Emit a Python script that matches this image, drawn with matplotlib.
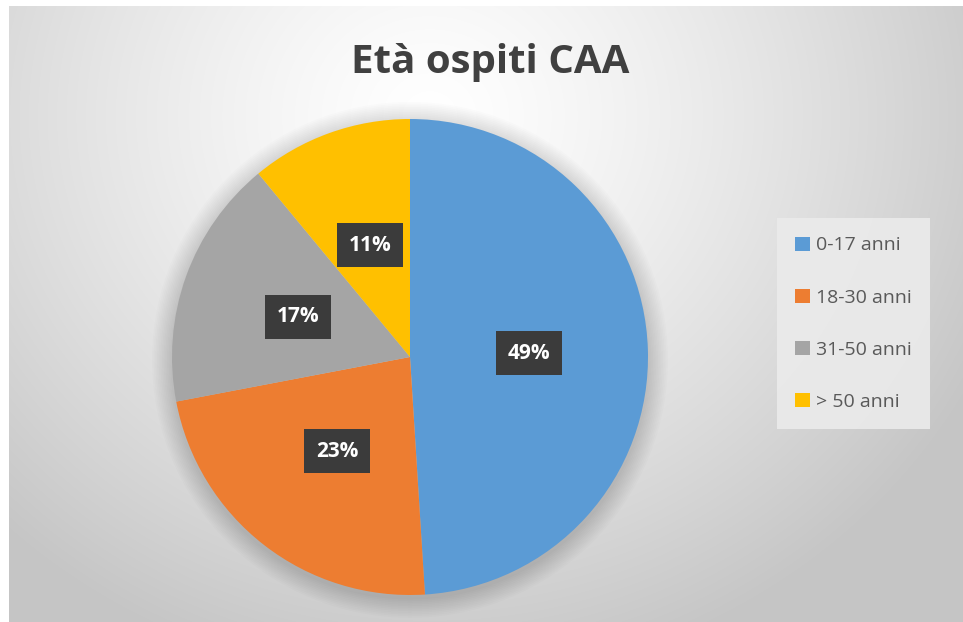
import numpy as np
import matplotlib.pyplot as plt
from matplotlib.patches import Circle

# dati
categorie = ["0-17 anni", "18-30 anni", "31-50 anni", "> 50 anni"]
valori = [49, 23, 17, 11]
colori = ["#5B9BD5", "#ED7D31", "#A5A5A5", "#FFC000"]
titolo = "Età ospiti CAA"

W, H = 963, 622
fig = plt.figure(figsize=(W / 100, H / 100), dpi=100, facecolor="white")

# sfondo con sfumatura radiale
bg = fig.add_axes([9 / W, 0, 1 - 9 / W, 1 - 6 / H])
yy, xx = np.mgrid[0:616, 0:954]
r = np.sqrt(((xx - 420) / 560.0) ** 2 + ((yy - 110) / 520.0) ** 2)
g = 1.0 - 0.20 * np.clip(r, 0, 1.1) ** 1.3
bg.imshow(np.dstack([g, g, g]), aspect="auto", extent=[0, 1, 0, 1], origin="upper")
bg.axis("off")

# torta
cx, cy, rad = 410, 357, 238
ax = fig.add_axes([(cx - rad) / W, (H - cy - rad) / H, 2 * rad / W, 2 * rad / H])
ax.set_facecolor("none")

# ombra morbida
for i in range(12):
    ax.add_patch(Circle((0.0, -0.012), 1.0 + 0.007 * (i + 1), color="black",
                        alpha=0.012, lw=0, zorder=0, clip_on=False))

wedges, texts, autotexts = ax.pie(
    valori, colors=colori, startangle=90, counterclock=False,
    autopct="%d%%", pctdistance=0.5, radius=1.0,
    wedgeprops=dict(linewidth=0),
    textprops=dict(color="white", fontsize=15, fontweight="bold", family="Open Sans"))
for t in autotexts:
    t.set_bbox(dict(boxstyle="square,pad=0.55", facecolor="#3b3b3b", edgecolor="none"))
    t.set_zorder(5)
ax.set_xlim(-1, 1)
ax.set_ylim(-1, 1)
ax.set_aspect("equal")
ax.axis("off")

fig.text(490 / W, 1 - 62 / H, titolo, ha="center", va="center", fontsize=29,
         fontweight="bold", color="#404040", family="Open Sans")

leg = fig.legend(wedges, categorie, loc="upper left",
                 bbox_to_anchor=(777 / W, 1 - 218 / H),
                 frameon=True, fancybox=False,
                 prop=dict(family="Open Sans", size=14),
                 handlelength=0.75, handleheight=0.75, handletextpad=0.3,
                 labelspacing=1.75, borderpad=0.95, borderaxespad=0)
leg.get_frame().set_facecolor("#ebebeb")
leg.get_frame().set_edgecolor("none")
leg.get_frame().set_alpha(0.9)
for t in leg.get_texts():
    t.set_color("#595959")

fig.savefig("out.png", dpi=100, facecolor="white")
